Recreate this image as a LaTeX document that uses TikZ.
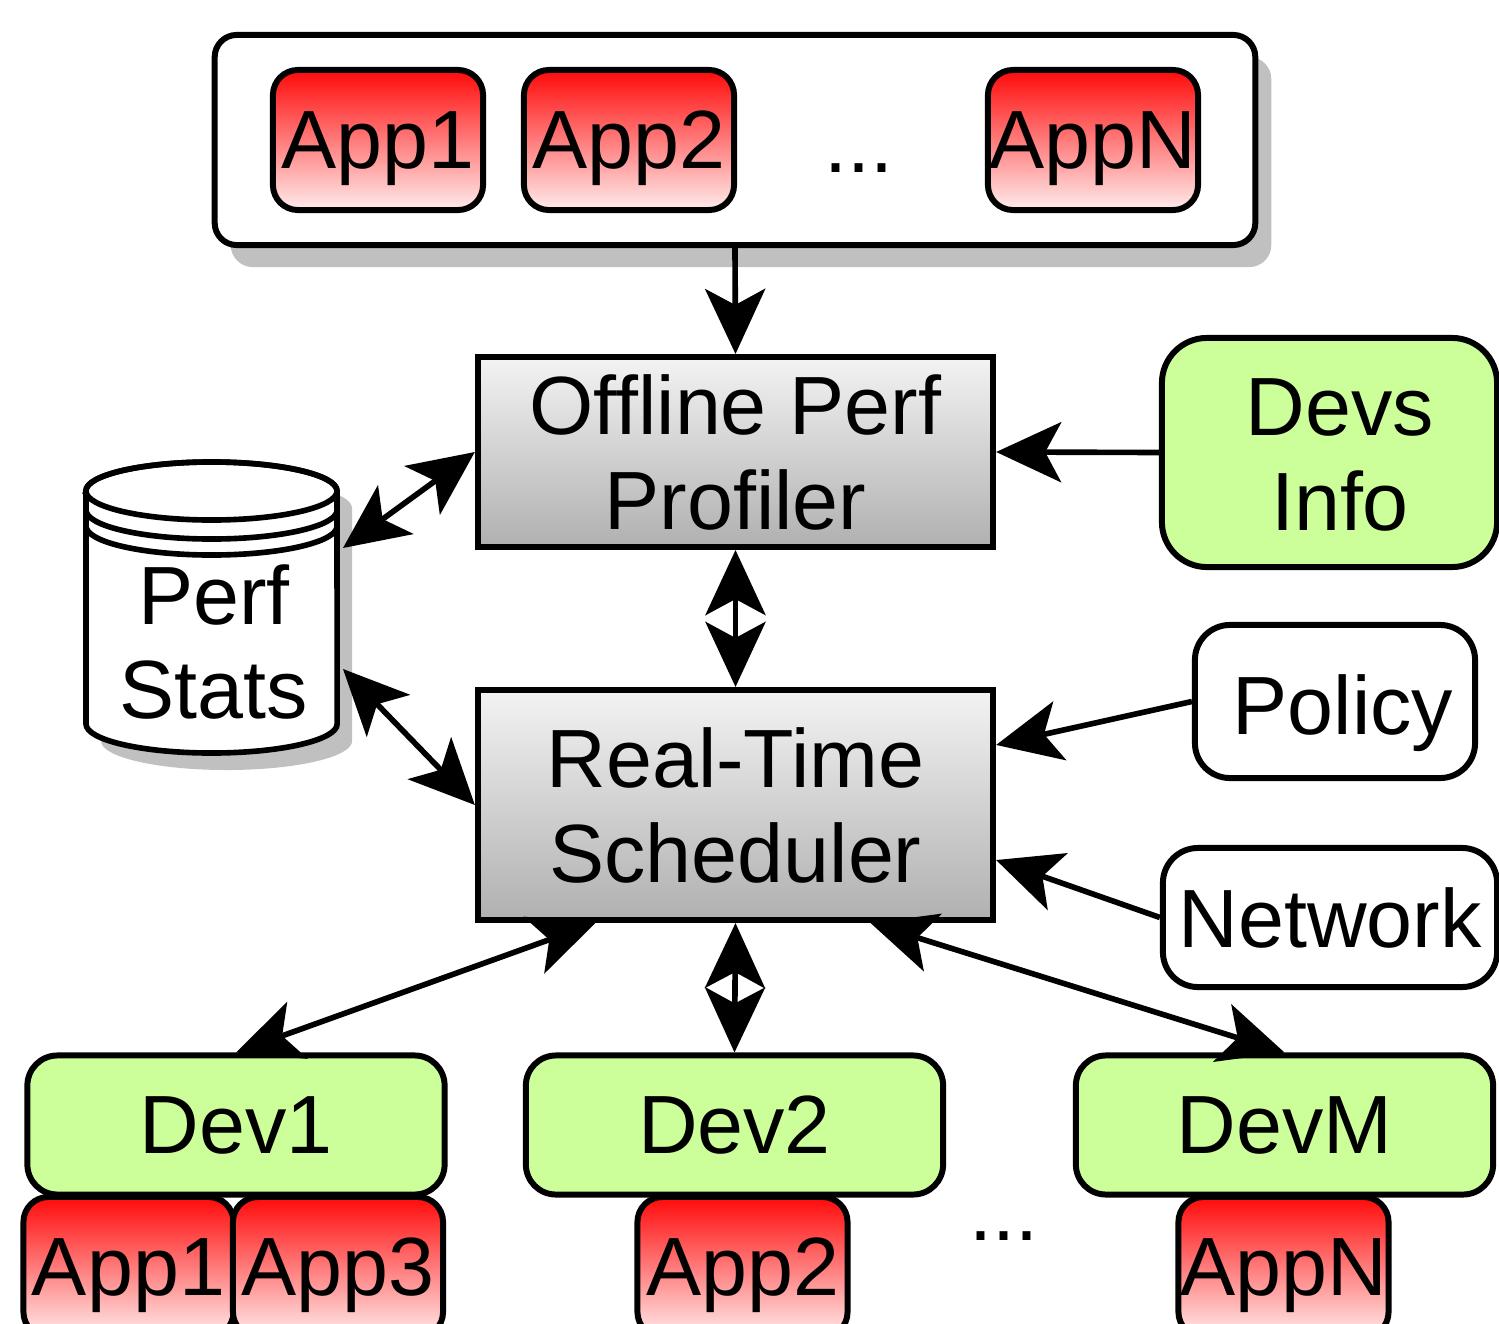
\documentclass[tikz,border=0pt]{standalone}
\usepackage{fontspec}
\setmainfont{Liberation Sans}
\usetikzlibrary{arrows.meta,shadows,calc}
\definecolor{shadowgray}{RGB}{192,192,192}
\definecolor{appred}{RGB}{255,10,10}
\definecolor{apppale}{RGB}{255,236,236}
\definecolor{boxlight}{RGB}{243,243,243}
\definecolor{boxdark}{RGB}{176,176,176}
\definecolor{devgreen}{RGB}{204,255,153}

\begin{document}
\begin{tikzpicture}[x=0.01cm,y=-0.01cm,
  every node/.style={font=\fontsize{23.5}{27}\selectfont, inner sep=0pt, align=center},
  frame/.style={draw, line width=1.7pt},
  appbox/.style={frame, rounded corners=0.25cm, top color=appred, bottom color=apppale,
                 minimum width=2.1cm, minimum height=1.4cm, text depth=0pt},
  procbox/.style={frame, top color=boxlight, bottom color=boxdark, minimum width=5.15cm},
  devbox/.style={frame, rounded corners=0.3cm, fill=devgreen, minimum width=4.17cm, minimum height=1.39cm},
  inbox/.style={frame, rounded corners=0.35cm, fill=white},
  link/.style={line width=1.6pt, -{Stealth[length=6.5mm, width=6mm, inset=1.6mm]}},
  duplex/.style={line width=1.6pt, {Stealth[length=6.5mm, width=6mm, inset=1.6mm]}-{Stealth[length=6.5mm, width=6mm, inset=1.6mm]}},
  cylr/.style={x radius=1.255cm, y radius=0.29cm}
]
\useasboundingbox (0,0) rectangle (1499,1324);
\clip (0,0) rectangle (1499,1324);

% application pool
\node[frame, rounded corners=0.22cm, fill=white, minimum width=10.4cm, minimum height=2.1cm,
      drop shadow={shadow xshift=0.16cm, shadow yshift=-0.22cm, fill=shadowgray, opacity=1}]
      (pool) at (735,140) {};
\node[appbox] (pa1) at (378,140) {App1};
\node[appbox] (pa2) at (629,140) {App2};
\node[anchor=base] (pdots) at (859,172) {...};
\node[appbox] (pan) at (1093,140) {AppN};

% core components
\node[procbox, minimum height=1.9cm] (prof) at (735.5,452) {Offline Perf\\Profiler};
\node[procbox, minimum height=2.3cm] (sched) at (735.5,805) {Real-Time\\Scheduler};

% inputs on the right
\node[frame, rounded corners=0.45cm, fill=devgreen, minimum width=3.35cm, minimum height=2.29cm]
      (devinfo) at (1329.5,452.5) {};
\node (devinfotext) at (1340,455) {Devs\\Info};
\node[inbox, minimum width=2.8cm, minimum height=1.53cm] (policy) at (1335,701.5) {};
\node[text depth=0pt] (policytext) at (1343,705) {Policy};
\node[inbox, minimum width=3.34cm, minimum height=1.39cm] (network) at (1330,917.5) {Network};

% performance statistics store
\begin{scope}[shift={(15,17)}]
  \fill[shadowgray] (86,491) -- (86,724) arc[start angle=180, end angle=360, cylr]
        -- (337,491) arc[start angle=0, end angle=180, cylr] -- cycle;
\end{scope}
\filldraw[fill=white, line width=1.6pt] (86,491) -- (86,724) arc[start angle=180, end angle=360, cylr]
        -- (337,491) arc[start angle=0, end angle=180, cylr] -- cycle;
\draw[line width=1.6pt] (211.5,491) ellipse[cylr];
\draw[line width=1.6pt] (86,510) arc[start angle=180, end angle=360, cylr];
\draw[line width=1.6pt] (86,526) arc[start angle=180, end angle=360, cylr];
\node (stats) at (214,642) {Perf\\Stats};
\coordinate (statsup) at (343,548);
\coordinate (statsdown) at (343,669);

% devices and their applications
\node[appbox] (d1a1) at (128.5,1267) {App1};
\node[appbox] (d1a3) at (338,1267) {App3};
\node[appbox] (d2a2) at (742.5,1267) {App2};
\node[anchor=base] (ddots) at (1004,1240) {...};
\node[appbox] (dman) at (1283.5,1267) {AppN};
\node[devbox] (dev1) at (236,1125) {Dev1};
\node[devbox] (dev2) at (734.5,1125) {Dev2};
\node[devbox] (devm) at (1284.5,1125) {DevM};

% connectors
\draw[link] (pool.south) -- (prof.north);
\draw[link] (devinfo.west) -- (prof.east);
\draw[duplex] (statsup) -- (prof.west);
\draw[duplex] (statsdown) -- (sched.west);
\draw[duplex] (prof.south) -- (sched.north);
\draw[link] (policy.west) -- ([yshift=0.6cm]sched.east);
\draw[link] (network.west) -- ([yshift=-0.55cm]sched.east);
\draw[duplex] ([xshift=-1.4cm]sched.south) -- (dev1.north);
\draw[duplex] (sched.south) -- (dev2.north);
\draw[duplex] ([xshift=1.35cm]sched.south) -- (devm.north);
\end{tikzpicture}
\end{document}
